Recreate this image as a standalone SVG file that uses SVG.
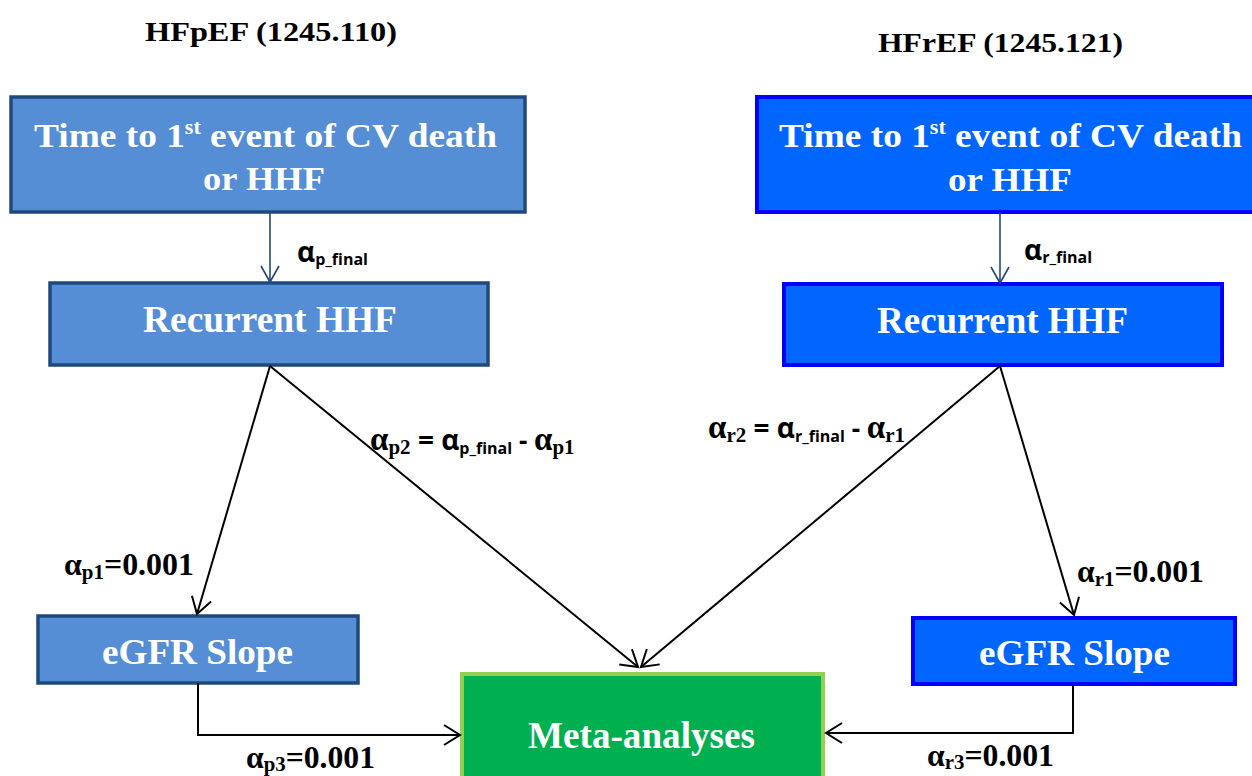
<svg xmlns="http://www.w3.org/2000/svg" width="1252" height="776" viewBox="0 0 1252 776">
<style>
.hdr{font-family:"Liberation Serif",serif;font-weight:bold;font-size:28px;fill:#000}
.bt{font-family:"Liberation Serif",serif;font-weight:bold;fill:#fff}
.pbox{fill:#558ED5;stroke:#1F497D;stroke-width:3.5}
.rbox{fill:#0066FF;stroke:#0000FF;stroke-width:4}
.mbox{fill:#00B050;stroke:#92D050;stroke-width:4}
.ser{font-family:"Liberation Serif",serif;font-weight:bold;fill:#000}
.san{font-family:"Open Sans","Liberation Sans",sans-serif;font-weight:bold;fill:#000}
.cb{fill:none;stroke:#000;stroke-width:2}
.cd{fill:none;stroke:#1F497D;stroke-width:1.6}
</style>
<defs>
<marker id="ab" markerUnits="userSpaceOnUse" markerWidth="20" markerHeight="24" refX="17" refY="11" orient="auto"><path d="M1,1 L17,11 L1,21" fill="none" stroke="#000" stroke-width="2"/></marker>
<marker id="ad" markerUnits="userSpaceOnUse" markerWidth="20" markerHeight="24" refX="17" refY="10" orient="auto"><path d="M1,1 L17,10 L1,19" fill="none" stroke="#1F497D" stroke-width="1.6"/></marker>
</defs>
<rect width="1252" height="776" fill="#fff"/>
<text class="hdr" x="145" y="41" textLength="252" lengthAdjust="spacingAndGlyphs">HFpEF (1245.110)</text>
<text class="hdr" x="878" y="52" textLength="245" lengthAdjust="spacingAndGlyphs">HFrEF (1245.121)</text>
<g id="p_top">
<rect class="pbox" x="11" y="97" width="514" height="115"/>
<text class="bt" font-size="34" x="34" y="147" textLength="463" lengthAdjust="spacingAndGlyphs">Time to 1<tspan font-size="20" dy="-13">st</tspan><tspan dy="13"> event of CV death</tspan></text>
<text class="bt" font-size="34" x="203" y="190" textLength="122" lengthAdjust="spacingAndGlyphs">or HHF</text>
</g>
<g id="r_top">
<rect class="rbox" x="757" y="97" width="500" height="115"/>
<text class="bt" font-size="34" x="779" y="147" textLength="463" lengthAdjust="spacingAndGlyphs">Time to 1<tspan font-size="20" dy="-13">st</tspan><tspan dy="13"> event of CV death</tspan></text>
<text class="bt" font-size="34" x="948" y="191" textLength="124" lengthAdjust="spacingAndGlyphs">or HHF</text>
</g>
<g id="p_rec">
<rect class="pbox" x="50" y="283" width="438" height="82"/>
<text class="bt" font-size="37" x="143" y="332" textLength="254" lengthAdjust="spacingAndGlyphs">Recurrent HHF</text>
</g>
<g id="r_rec">
<rect class="rbox" x="784" y="284" width="438" height="81"/>
<text class="bt" font-size="37" x="877" y="333" textLength="251" lengthAdjust="spacingAndGlyphs">Recurrent HHF</text>
</g>
<g id="p_egfr">
<rect class="pbox" x="38" y="616" width="320" height="67"/>
<text class="bt" font-size="36" x="102" y="664" textLength="191" lengthAdjust="spacingAndGlyphs">eGFR Slope</text>
</g>
<g id="r_egfr">
<rect class="rbox" x="913" y="618" width="322" height="66"/>
<text class="bt" font-size="36" x="979" y="665" textLength="191" lengthAdjust="spacingAndGlyphs">eGFR Slope</text>
</g>
<g id="meta">
<rect class="mbox" x="462" y="674" width="361" height="110"/>
<text class="bt" font-size="37" x="528" y="748" textLength="227" lengthAdjust="spacingAndGlyphs">Meta-analyses</text>
</g>
<g id="connectors">
<line class="cd" x1="270" y1="213" x2="270" y2="282" marker-end="url(#ad)"/>
<line class="cd" x1="1000" y1="213" x2="1000" y2="283" marker-end="url(#ad)"/>
<line class="cb" x1="270" y1="366" x2="197" y2="614" marker-end="url(#ab)"/>
<line class="cb" x1="270" y1="366" x2="638" y2="667" marker-end="url(#ab)"/>
<line class="cb" x1="1000" y1="366" x2="641" y2="667" marker-end="url(#ab)"/>
<line class="cb" x1="1000" y1="366" x2="1074" y2="615" marker-end="url(#ab)"/>
<polyline class="cb" points="198,683 198,735 460,735" marker-end="url(#ab)"/>
<polyline class="cb" points="1073,685 1073,733 826,733" marker-end="url(#ab)"/>
</g>
<g id="labels">
<text class="san" x="297" y="262" font-size="28">α<tspan font-size="16" dy="3">p_final</tspan></text>
<text class="san" x="1024" y="260" font-size="28">α<tspan font-size="16" dy="3">r_final</tspan></text>
<text x="370" y="450"><tspan class="ser" font-size="33">α</tspan><tspan class="ser" font-size="21" dy="4">p2</tspan><tspan class="san" font-size="28" dy="-4"> = </tspan><tspan class="san" font-size="28">α</tspan><tspan class="san" font-size="16" dy="4">p_final</tspan><tspan class="san" font-size="26" dy="-4"> - </tspan><tspan class="ser" font-size="33">α</tspan><tspan class="ser" font-size="21" dy="4">p1</tspan></text>
<text x="708" y="438"><tspan class="ser" font-size="33">α</tspan><tspan class="ser" font-size="21" dy="4">r2</tspan><tspan class="san" font-size="28" dy="-4"> = </tspan><tspan class="san" font-size="28">α</tspan><tspan class="san" font-size="16" dy="4">r_final</tspan><tspan class="san" font-size="26" dy="-4"> - </tspan><tspan class="ser" font-size="33">α</tspan><tspan class="ser" font-size="21" dy="4">r1</tspan></text>
<text class="ser" x="64" y="575" font-size="32" textLength="130" lengthAdjust="spacingAndGlyphs">α<tspan font-size="21" dy="4">p1</tspan><tspan dy="-4">=0.001</tspan></text>
<text class="ser" x="1077" y="582" font-size="32" textLength="127" lengthAdjust="spacingAndGlyphs">α<tspan font-size="21" dy="4">r1</tspan><tspan dy="-4">=0.001</tspan></text>
<text class="ser" x="246" y="768" font-size="32" textLength="129" lengthAdjust="spacingAndGlyphs">α<tspan font-size="21" dy="3">p3</tspan><tspan dy="-3">=0.001</tspan></text>
<text class="ser" x="927" y="766" font-size="32" textLength="127" lengthAdjust="spacingAndGlyphs">α<tspan font-size="21" dy="3">r3</tspan><tspan dy="-3">=0.001</tspan></text>
</g>
</svg>
